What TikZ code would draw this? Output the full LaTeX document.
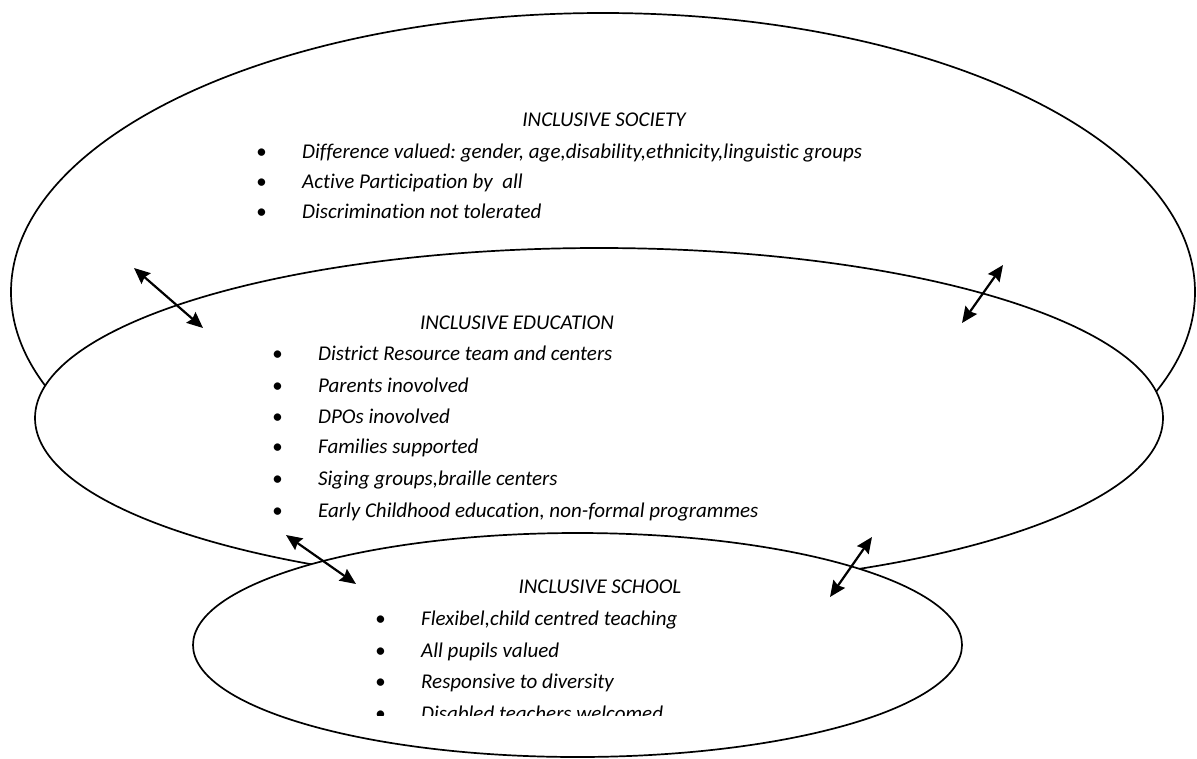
\documentclass[tikz,border=0pt]{standalone}
\usepackage{fontspec}
\setmainfont{Carlito}[Ligatures=NoCommon]
\frenchspacing
\usetikzlibrary{shapes.geometric, arrows.meta, positioning}

\newcommand{\bul}{\makebox[46pt][l]{\textbullet}}

\begin{document}
\begin{tikzpicture}[x=1pt, y=-1pt,
    ring/.style={ellipse, draw=black, line width=1.7pt, fill=white, inner sep=0pt},
    heading/.style={font=\fontsize{21}{25}\selectfont\itshape, inner sep=0pt, anchor=base},
    point/.style={font=\fontsize{21}{25}\selectfont\itshape, inner sep=0pt, anchor=base west},
    link/.style={{Stealth[length=16pt,width=14pt,inset=2pt]}-{Stealth[length=16pt,width=14pt,inset=2pt]}, line width=2.2pt}
]
\useasboundingbox (0,0) rectangle (1197,758);

% society
\node[ring, minimum width=1184pt, minimum height=558pt] (society) at (603,292) {};
\node[heading] (socT) at (604,126) {INCLUSIVE SOCIETY};
\node[point] (soc1) at (256,158) {\bul Difference valued: gender, age,disability,ethnicity,linguistic groups};
\node[point] (soc2) at (256,188) {\bul Active Participation by~ all};
\node[point] (soc3) at (256,218) {\bul Discrimination not tolerated};

% education
\node[ring, minimum width=1128pt, minimum height=340pt] (education) at (599,418) {};
\node[heading] (eduT) at (517,329) {INCLUSIVE EDUCATION};
\node[point] (edu1) at (272,360) {\bul District Resource team and centers};
\node[point] (edu2) at (272,392) {\bul Parents inovolved};
\node[point] (edu3) at (272,423) {\bul DPOs inovolved};
\node[point] (edu4) at (272,453) {\bul Families supported};
\node[point] (edu5) at (272,485) {\bul Siging groups,braille centers};
\node[point] (edu6) at (272,517) {\bul Early Childhood education, non-formal programmes};

% school
\node[ring, minimum width=769pt, minimum height=224pt] (school) at (577.5,645) {};
\node[heading] (schT) at (600,593) {INCLUSIVE SCHOOL};
\begin{scope}
  \clip (350,600) rectangle (800,715);
  \node[point] (sch1) at (375,625) {\bul Flexibel,child centred teaching};
  \node[point] (sch2) at (375,657) {\bul All pupils valued};
  \node[point] (sch3) at (375,688) {\bul Responsive to diversity};
  \node[point] (sch4) at (375,720) {\bul Disabled teachers welcomed};
\end{scope}

% two-way links
\coordinate (lnk1a) at (134,268);
\coordinate (lnk1b) at (203,328);
\coordinate (lnk2a) at (1003,265);
\coordinate (lnk2b) at (962,323);
\coordinate (lnk3a) at (286,535);
\coordinate (lnk3b) at (356,584);
\coordinate (lnk4a) at (872,537);
\coordinate (lnk4b) at (830,597);
\draw[link] (lnk1a) -- (lnk1b);
\draw[link] (lnk2a) -- (lnk2b);
\draw[link] (lnk3a) -- (lnk3b);
\draw[link] (lnk4a) -- (lnk4b);

\end{tikzpicture}
\end{document}
